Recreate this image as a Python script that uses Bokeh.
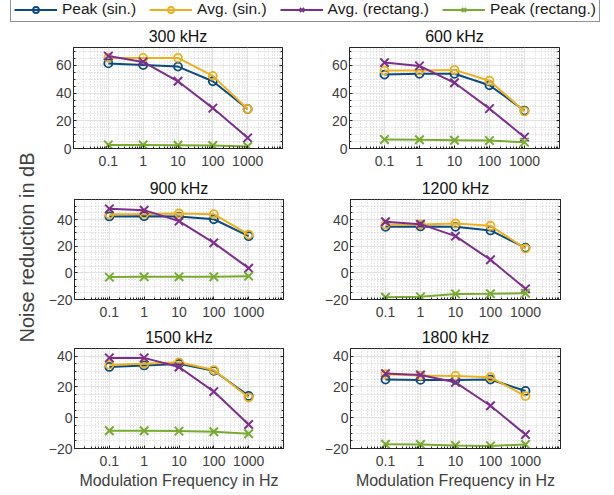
from bokeh.plotting import figure
from bokeh.layouts import column, row
from bokeh.models import (Range1d, FixedTicker, LinearAxis, Legend, LegendItem,
                          CustomJSTickFormatter, ColumnDataSource, Title, CustomLabelingPolicy)
from bokeh.embed import file_html
from bokeh.resources import INLINE

# ---------------- data ----------------
freqs = [0.1, 1, 10, 100, 1000]
x_tick_labels = ["0.1", "1", "10", "100", "1000"]
titles = ["300 kHz", "600 kHz", "900 kHz", "1200 kHz", "1500 kHz", "1800 kHz"]
series_names = ["Peak (sin.)", "Avg. (sin.)", "Avg. (rectang.)", "Peak (rectang.)"]

# one row per panel (300, 600, 900, 1200, 1500, 1800 kHz)
peak_sin = [
    [61.5, 60.3, 59.2, 48.6, 28.6],
    [53.4, 54.0, 54.0, 45.7, 27.4],
    [42.3, 42.5, 42.2, 40.2, 27.5],
    [34.5, 34.8, 34.5, 31.8, 18.8],
    [33.0, 34.0, 35.0, 30.5, 14.2],
    [24.8, 24.6, 24.6, 24.8, 17.4],
]
avg_sin = [
    [65.5, 65.5, 65.5, 52.5, 28.6],
    [56.3, 56.3, 56.8, 49.0, 26.8],
    [44.0, 44.2, 44.5, 44.0, 28.7],
    [36.3, 36.3, 37.0, 35.3, 18.2],
    [34.5, 35.1, 36.0, 31.0, 13.1],
    [28.3, 27.4, 27.2, 26.3, 14.1],
]
avg_rect = [
    [66.8, 62.6, 48.6, 29.2, 7.7],
    [62.1, 59.7, 47.5, 28.8, 8.2],
    [48.0, 47.0, 38.8, 22.5, 3.5],
    [38.3, 36.5, 27.5, 9.8, -12.0],
    [38.9, 38.9, 33.0, 17.0, -4.4],
    [28.7, 27.8, 23.0, 7.8, -10.9],
]
peak_rect = [
    [2.6, 2.6, 2.4, 2.2, 1.4],
    [6.5, 6.3, 6.0, 5.7, 4.6],
    [-3.2, -3.0, -3.0, -3.0, -2.5],
    [-18.3, -18.0, -15.8, -15.7, -15.3],
    [-8.5, -8.5, -8.7, -9.1, -10.4],
    [-17.2, -17.4, -18.0, -18.3, -17.4],
]
y_limits = [(0, 73), (0, 73), (-20, 55), (-20, 55), (-20, 45), (-20, 45)]
y_ticks = [[0, 20, 40, 60], [0, 20, 40, 60], [-20, 0, 20, 40], [-20, 0, 20, 40],
           [-20, 0, 20, 40], [-20, 0, 20, 40]]

colors = ["#0B4B7E", "#EDB120", "#7E2F8E", "#77AC30"]
markers = ["circle", "circle", "x", "x"]
msizes = [8, 8, 12, 12]
all_series = [peak_sin, avg_sin, avg_rect, peak_rect]

FONT = "Liberation Sans"
AX = "#262626"
TXT = "#404040"

minor_x = [m * 10 ** k for k in range(-2, 4) for m in range(2, 10)]

HIDE_ALL = "const arr = [...indices]; for (const k of arr) indices.unset(k);"


def style_axis(ax, show_labels):
    ax.axis_line_color = AX
    ax.major_tick_line_color = AX
    ax.minor_tick_line_color = AX
    ax.major_tick_in = 3
    ax.major_tick_out = 0
    ax.minor_tick_in = 2
    ax.minor_tick_out = 0
    ax.major_label_text_font = FONT
    ax.major_label_text_font_size = "14px" if show_labels else "1px"
    ax.major_label_text_color = TXT
    ax.axis_label_text_font = FONT
    ax.axis_label_text_font_style = "normal"
    ax.axis_label_text_color = TXT
    if not show_labels:
        ax.major_label_policy = CustomLabelingPolicy(code=HIDE_ALL)
        ax.major_label_standoff = 0


def x_formatter():
    return CustomJSTickFormatter(args=dict(labs=x_tick_labels, vals=freqs),
                                 code="const k = vals.indexOf(tick); return k >= 0 ? labs[k] : '';")


TOPS = [25, 25, 25]
BOTTOMS = [26, 24, 47]


def make_panel(i):
    c = i % 2
    r = i // 2
    left = c == 0
    lo, hi = y_limits[i]
    fw = 209 if left else 210
    fh = 101 if r == 0 else 100
    p = figure(x_axis_type="log", x_range=Range1d(0.01, 10000), y_range=Range1d(lo, hi),
               frame_width=fw, frame_height=fh,
               min_border_left=28 if left else 49, min_border_right=18 if left else 55,
               min_border_top=TOPS[r], min_border_bottom=BOTTOMS[r],
               toolbar_location=None, output_backend="svg", title=titles[i])
    p.title.align = "center"
    p.title.text_font = FONT
    p.title.text_font_size = "16px"
    p.title.text_font_style = "normal"
    p.title.text_color = "#111111"
    p.title.standoff = 6
    p.outline_line_color = AX
    p.outline_line_alpha = 1
    p.background_fill_color = "white"
    p.border_fill_color = "white"

    xt = FixedTicker(ticks=freqs, minor_ticks=minor_x)
    minor_y = [v for v in range(lo - lo % 5, hi + 1, 5) if lo <= v <= hi]
    yt = FixedTicker(ticks=y_ticks[i], minor_ticks=minor_y)

    xa = p.xaxis[0]
    xa.ticker = xt
    xa.formatter = x_formatter()
    style_axis(xa, True)
    xa.major_label_standoff = 7
    if r == 2:
        xa.axis_label = "Modulation Frequency in Hz"
        xa.axis_label_text_font_size = "16px"
        xa.axis_label_standoff = 3

    ya = p.yaxis[0]
    ya.ticker = yt
    style_axis(ya, True)
    ya.major_label_standoff = 2

    rt = LinearAxis(ticker=yt)
    style_axis(rt, False)
    p.add_layout(rt, "right")

    for g in (p.xgrid[0], p.ygrid[0]):
        g.grid_line_color = "#e2e2e2"
        g.grid_line_width = 1
        g.minor_grid_line_color = "#cfcfcf"
        g.minor_grid_line_dash = "1 2"
        g.minor_grid_line_width = 1

    for s in range(4):
        vals = all_series[s][i]
        src = ColumnDataSource(data=dict(x=freqs, y=vals))
        p.line("x", "y", source=src, line_color=colors[s], line_width=2)
        p.scatter("x", "y", source=src, marker=markers[s], size=msizes[s],
                  line_color=colors[s], fill_color=None, line_width=2 if markers[s] == "x" else 1.8)
    return p


panels = [make_panel(i) for i in range(6)]

# ---------------- legend strip (its renderers lie outside its visible range) ----------------
leg = figure(width=614, height=22, toolbar_location=None, output_backend="svg", title=None,
             x_range=Range1d(-10, -9), y_range=Range1d(-1000, -999),
             x_axis_location=None, y_axis_location=None, min_border=0)
leg.grid.visible = False
leg.outline_line_color = None
items = []
for s in range(4):
    src = ColumnDataSource(data=dict(x=freqs, y=all_series[s][0]))
    lr = leg.line("x", "y", source=src, line_color=colors[s], line_width=2)
    sr = leg.scatter("x", "y", source=src, marker=markers[s], size=msizes[s] - 1,
                     line_color=colors[s], fill_color=None, line_width=1.8)
    items.append(LegendItem(label=series_names[s], renderers=[lr, sr]))
legend = Legend(items=items, orientation="horizontal", location=(10, 0),
                glyph_width=43, glyph_height=15, label_height=15, padding=3, spacing=13,
                label_standoff=5, margin=0,
                label_text_font=FONT, label_text_font_size="15.5px", label_text_color="#1a1a1a",
                border_line_color=AX, border_line_width=1, background_fill_color="white",
                background_fill_alpha=1)
leg.add_layout(legend, "center")

# ---------------- shared y label strip ----------------
ylab = figure(width=45, height=473, toolbar_location=None, output_backend="svg", title=None,
              x_range=Range1d(0, 1), y_range=Range1d(0, 1),
              x_axis_location=None, y_axis_location=None,
              min_border_left=37, min_border_right=0, min_border_top=0, min_border_bottom=23)
ylab.grid.visible = False
ylab.outline_line_color = None
ylab.add_layout(Title(text="Noise reduction in dB", align="center", text_font=FONT,
                      text_font_size="20px", text_font_style="normal", text_color=TXT,
                      standoff=0), "left")

grid = column(row(panels[0], panels[1]), row(panels[2], panels[3]), row(panels[4], panels[5]))
layout = column(leg, row(ylab, grid))

open("out.html", "w").write(file_html(layout, INLINE))
